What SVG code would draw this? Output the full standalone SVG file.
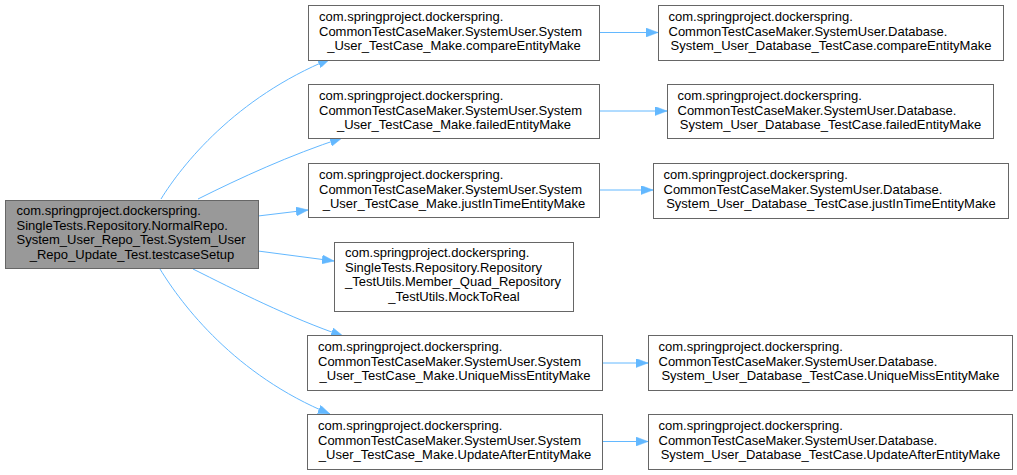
<svg xmlns="http://www.w3.org/2000/svg" width="1017" height="475" viewBox="0 0 1017 475">
<style>
.box{fill:#ffffff;stroke:#666666;stroke-width:1}
.root{fill:#999999;stroke:#666666;stroke-width:1}
text{font-family:"Liberation Sans",Arial,sans-serif;font-size:13px;fill:#000000}
.c{text-anchor:middle}
.edge{fill:none;stroke:#63b8ff;stroke-width:1}
</style>
<defs>
<marker id="arr" markerUnits="userSpaceOnUse" markerWidth="12" markerHeight="9" viewBox="0 0 12 9" refX="12" refY="4.5" orient="auto">
<path d="M0,0 L12,4.5 L0,9 z" fill="#63b8ff" stroke="#63b8ff" stroke-width="0.5"/>
</marker>
</defs>
<rect width="1017" height="475" fill="#ffffff"/>
<g id="connectors">
<path class="edge" marker-end="url(#arr)" d="M161,199 C182,165 235,98 330,59"/>
<path class="edge" marker-end="url(#arr)" d="M198,199 C240,178 290,155 342,138"/>
<path class="edge" marker-end="url(#arr)" d="M258,216 L308,210"/>
<path class="edge" marker-end="url(#arr)" d="M258,251 L334,261"/>
<path class="edge" marker-end="url(#arr)" d="M193,269 C235,290 290,318 343,336"/>
<path class="edge" marker-end="url(#arr)" d="M160,269 C182,305 235,375 330,414"/>
<path class="edge" marker-end="url(#arr)" d="M599,32.5 L658,32.5"/>
<path class="edge" marker-end="url(#arr)" d="M599,111 L667,111"/>
<path class="edge" marker-end="url(#arr)" d="M599,190 L653,190"/>
<path class="edge" marker-end="url(#arr)" d="M602,363 L648,363"/>
<path class="edge" marker-end="url(#arr)" d="M602,441.5 L648,441.5"/>
</g>
<g id="node_root">
<rect class="root" x="5.5" y="200.5" width="253" height="68"/>
<text x="16.5" y="215">com.springproject.dockerspring.</text>
<text x="16.5" y="229.5">SingleTests.Repository.NormalRepo.</text>
<text x="16.5" y="244">System_User_Repo_Test.System_User</text>
<text class="c" x="132" y="258.5">_Repo_Update_Test.testcaseSetup</text>
</g>
<g id="node_compare">
<rect class="box" x="308.5" y="5.5" width="291" height="55"/>
<text x="319" y="21">com.springproject.dockerspring.</text>
<text x="319" y="35.5">CommonTestCaseMaker.SystemUser.System</text>
<text class="c" x="454" y="50">_User_TestCase_Make.compareEntityMake</text>
</g>
<g id="node_failed">
<rect class="box" x="308.5" y="84.5" width="291" height="54"/>
<text x="319" y="100">com.springproject.dockerspring.</text>
<text x="319" y="114.5">CommonTestCaseMaker.SystemUser.System</text>
<text class="c" x="454" y="129">_User_TestCase_Make.failedEntityMake</text>
</g>
<g id="node_justintime">
<rect class="box" x="308.5" y="163.5" width="291" height="54"/>
<text x="319" y="179">com.springproject.dockerspring.</text>
<text x="319" y="193.5">CommonTestCaseMaker.SystemUser.System</text>
<text class="c" x="454" y="208">_User_TestCase_Make.justInTimeEntityMake</text>
</g>
<g id="node_mocktoreal">
<rect class="box" x="334.5" y="242.5" width="239" height="69"/>
<text x="345" y="257">com.springproject.dockerspring.</text>
<text x="345" y="271.5">SingleTests.Repository.Repository</text>
<text x="345" y="286">_TestUtils.Member_Quad_Repository</text>
<text class="c" x="454" y="300.5">_TestUtils.MockToReal</text>
</g>
<g id="node_uniquemiss">
<rect class="box" x="307.5" y="335.5" width="295" height="55"/>
<text x="318" y="351">com.springproject.dockerspring.</text>
<text x="318" y="365.5">CommonTestCaseMaker.SystemUser.System</text>
<text class="c" x="455" y="380">_User_TestCase_Make.UniqueMissEntityMake</text>
</g>
<g id="node_updateafter">
<rect class="box" x="307.5" y="414.5" width="295" height="55"/>
<text x="318" y="430">com.springproject.dockerspring.</text>
<text x="318" y="444.5">CommonTestCaseMaker.SystemUser.System</text>
<text class="c" x="455" y="459">_User_TestCase_Make.UpdateAfterEntityMake</text>
</g>
<g id="node_db_compare">
<rect class="box" x="658.5" y="5.5" width="345" height="55"/>
<text x="668.5" y="21">com.springproject.dockerspring.</text>
<text x="668.5" y="35.5">CommonTestCaseMaker.SystemUser.Database.</text>
<text class="c" x="831" y="50">System_User_Database_TestCase.compareEntityMake</text>
</g>
<g id="node_db_failed">
<rect class="box" x="667.5" y="84.5" width="326" height="54"/>
<text x="677.5" y="100">com.springproject.dockerspring.</text>
<text x="677.5" y="114.5">CommonTestCaseMaker.SystemUser.Database.</text>
<text class="c" x="830.5" y="129">System_User_Database_TestCase.failedEntityMake</text>
</g>
<g id="node_db_justintime">
<rect class="box" x="653.5" y="163.5" width="355" height="55"/>
<text x="663.5" y="179">com.springproject.dockerspring.</text>
<text x="663.5" y="193.5">CommonTestCaseMaker.SystemUser.Database.</text>
<text class="c" x="831" y="208">System_User_Database_TestCase.justInTimeEntityMake</text>
</g>
<g id="node_db_uniquemiss">
<rect class="box" x="648.5" y="335.5" width="364" height="55"/>
<text x="658.5" y="351">com.springproject.dockerspring.</text>
<text x="658.5" y="365.5">CommonTestCaseMaker.SystemUser.Database.</text>
<text class="c" x="830.5" y="380">System_User_Database_TestCase.UniqueMissEntityMake</text>
</g>
<g id="node_db_updateafter">
<rect class="box" x="648.5" y="414.5" width="364" height="55"/>
<text x="658.5" y="430">com.springproject.dockerspring.</text>
<text x="658.5" y="444.5">CommonTestCaseMaker.SystemUser.Database.</text>
<text class="c" x="830.5" y="459">System_User_Database_TestCase.UpdateAfterEntityMake</text>
</g>
</svg>
